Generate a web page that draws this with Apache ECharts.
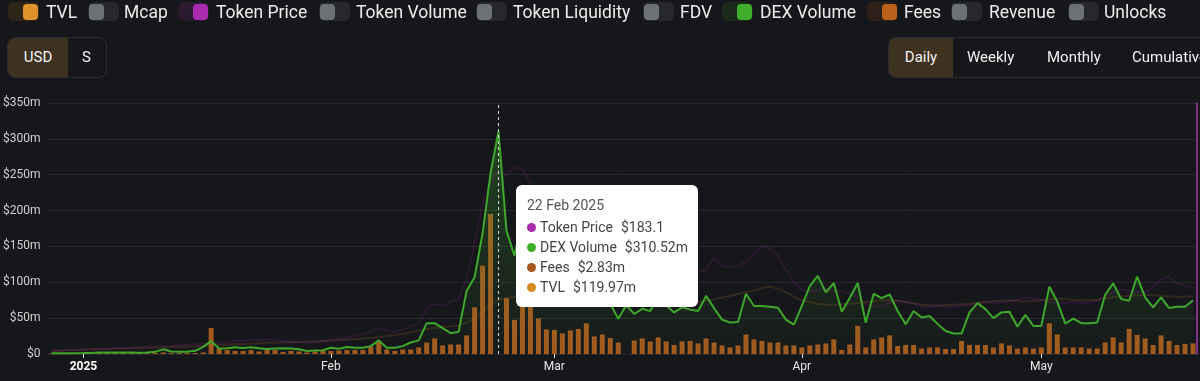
<!DOCTYPE html>
<html>
<head>
<meta charset="utf-8">
<script src="https://cdn.jsdelivr.net/npm/echarts@6/dist/echarts.min.js"></script>
<style>
  body { margin: 0; width: 1200px; height: 381px; overflow: hidden; position: relative;
         background: #16171b; font-family: Roboto, "Noto Sans", sans-serif; color: #e8e8e8; }
  #chart { position: absolute; left: 0; top: 0; width: 1200px; height: 381px; }
  .sw { position: absolute; top: 2px; width: 31px; height: 19px; border-radius: 6px; background: #27282c; }
  .knob { position: absolute; top: 2px; width: 15px; height: 16px; border-radius: 4px; }
  .lg { position: absolute; top: 1px; font-size: 17.5px; line-height: 23px; white-space: nowrap; color: #ececec; }
  .box { position: absolute; top: 37px; height: 39px; border: 1px solid #2a2b30; border-radius: 8px; overflow: hidden; }
  .seg { position: absolute; top: 0; height: 39px; line-height: 39px; font-size: 15px; color: #f2f2f2; white-space: nowrap; }
  .on { background: #3d3120; text-align: center; }
</style>
</head>
<body>
<div id="chart"></div>
<div id="legend"></div>

<div class="box" style="left:7px; width:98px;">
  <div class="seg on" style="left:0; width:60px;">USD</div>
  <div class="seg" style="left:74px;">S</div>
</div>
<div class="box" style="left:888px; width:340px;">
  <div class="seg on" style="left:0; width:64px;">Daily</div>
  <div class="seg" style="left:78px;">Weekly</div>
  <div class="seg" style="left:158px;">Monthly</div>
  <div class="seg" style="left:243px;">Cumulative</div>
</div>

<script>
// categories: daily, 28 Dec 2024 .. 20 May 2025
var startDay = Date.UTC(2024, 11, 28);
var dayCount = 144;
var monthNames = ['Jan', 'Feb', 'Mar', 'Apr', 'May', 'Jun', 'Jul', 'Aug', 'Sep', 'Oct', 'Nov', 'Dec'];

// DEX Volume ($m)
var dexVolume = [
  1.0, 1.0, 1.2, 1.2, 1.3, 1.5, 2.0, 2.0, 2.2, 2.0,
  2.0, 1.8, 2.0, 3.0, 6.5, 3.5, 3.2, 3.3, 4.5, 10,
  18, 7.5, 8.0, 9.5, 8.5, 9.5, 8.0, 7.0, 7.5, 8.0,
  7.5, 6.6, 4.2, 4.8, 5.2, 8.8, 7.4, 9.8, 8.8, 8.8,
  11, 19, 8.8, 8.8, 11, 16, 19, 43, 43, 36,
  29, 31, 88, 107, 168, 252, 310.52, 172, 137, 190,
  165, 120, 110, 95, 100, 85, 90, 80, 75, 72,
  70, 49, 68, 56, 63, 60, 80, 68, 58, 65,
  62, 60, 81, 64, 48, 44, 44.5, 84, 67, 67,
  66, 64.5, 48, 41, 67, 95, 109, 86, 99, 59,
  78, 99, 44, 84, 78, 83, 60, 41.6, 60, 51,
  53, 42, 32, 28.5, 28.5, 58, 71, 62.6, 50, 58,
  59, 38, 54.6, 39, 39, 94, 73, 42.4, 49.4, 43,
  43, 44, 82.6, 98.5, 76.6, 74.2, 108, 79, 65, 79,
  64, 66, 66, 75
];

// Fees ($m)
var fees = [
  0.01, 0.01, 0.01, 0.01, 0.01, 0.01, 0.02, 0.02, 0.02, 0.02,
  0.02, 0.02, 0.02, 0.02, 0.03, 0.02, 0.02, 0.02, 0.02, 0.03,
  0.52, 0.11, 0.08, 0.06, 0.06, 0.08, 0.05, 0.12, 0.08, 0.04,
  0.06, 0.05, 0.03, 0.05, 0.06, 0.06, 0.07, 0.08, 0.08, 0.08,
  0.15, 0.26, 0.09, 0.06, 0.09, 0.09, 0.13, 0.23, 0.31, 0.17,
  0.19, 0.19, 0.37, 0.93, 1.76, 2.79, 2.83, 1.11, 0.68, 0.96,
  0.94, 0.71, 0.49, 0.48, 0.41, 0.47, 0.5, 0.61, 0.35, 0.39,
  0.32, 0.23, 0, 0.27, 0.31, 0.25, 0.33, 0.25, 0.18, 0.25,
  0.26, 0.21, 0.31, 0.23, 0.17, 0.13, 0.17, 0.39, 0.29, 0.26,
  0.23, 0.23, 0.17, 0.17, 0.13, 0.17, 0.19, 0.21, 0.29, 0.08,
  0.19, 0.56, 0.13, 0.29, 0.33, 0.37, 0.16, 0.18, 0.18, 0.11,
  0.13, 0.13, 0.1, 0.1, 0.26, 0.18, 0.18, 0.18, 0.13, 0.21,
  0.17, 0.11, 0.13, 0.11, 0.13, 0.61, 0.39, 0.13, 0.13, 0.13,
  0.11, 0.11, 0.23, 0.33, 0.23, 0.5, 0.38, 0.31, 0.18, 0.37,
  0.26, 0.18, 0.2, 0.21
];

// Token Price ($)
var tokenPrice = [
  3, 3, 4, 4, 4, 5, 5, 5, 6, 6,
  6, 7, 7, 8, 8, 8, 9, 9, 10, 10,
  11, 11, 12, 13, 13, 14, 14, 15, 14, 13,
  12, 12, 11, 12, 13, 14, 15, 16, 18, 20,
  22, 26, 24, 22, 24, 28, 30, 45, 50, 48,
  52, 55, 75, 110, 150, 172, 183.1, 178, 186, 184,
  170, 160, 150, 140, 130, 120, 115, 110, 105, 100,
  98, 95, 92, 90, 92, 95, 93, 90, 88, 86,
  84, 82, 84, 96, 88, 86, 88, 92, 100, 107,
  105, 98, 84, 72, 64, 62, 64, 64, 63, 62,
  60, 56, 50, 47, 48, 51, 53, 52, 50, 47,
  47, 48, 47, 47, 48, 49, 50, 52, 51, 51,
  52, 54, 56, 55, 54, 52, 51, 51, 52, 51,
  51, 53, 58, 62, 64, 63, 62, 61, 66, 74,
  77, 70, 68, 67
];

// TVL ($m)
var tvl = [
  8, 8, 9, 9, 10, 10, 11, 11, 12, 12,
  13, 13, 14, 14, 15, 15, 16, 16, 17, 18,
  19, 20, 21, 22, 22, 23, 24, 25, 25, 26,
  26, 27, 28, 28, 29, 30, 31, 32, 33, 34,
  36, 38, 40, 42, 45, 48, 52, 56, 58, 60,
  62, 64, 70, 80, 95, 110, 119.97, 125, 128, 130,
  128, 125, 122, 120, 118, 116, 115, 114, 113, 112,
  111, 110, 110, 109, 110, 112, 113, 112, 111, 112,
  114, 116, 118, 122, 126, 130, 134, 138, 142, 147,
  150, 146, 138, 128, 120, 116, 112, 110, 110, 111,
  112, 114, 116, 118, 120, 120, 119, 116, 113, 110,
  109, 108, 109, 110, 111, 112, 114, 116, 118, 119,
  120, 118, 117, 118, 120, 122, 124, 123, 121, 120,
  120, 121, 124, 127, 129, 130, 131, 132, 131, 130,
  129, 128, 128, 129
];

var yTicks = [0, 50, 100, 150, 200, 250, 300, 350];
var hoverIndex = 56; // 22 Feb 2025

var legendItems = [
  { name: 'TVL', on: true, color: '#e0922a', track: '#2e2619', sw: 8, tx: 46 },
  { name: 'Mcap', on: false, sw: 88, tx: 124 },
  { name: 'Token Price', on: true, color: '#a82bb0', track: '#2a1a2d', sw: 178, tx: 216 },
  { name: 'Token Volume', on: false, sw: 319, tx: 356 },
  { name: 'Token Liquidity', on: false, sw: 476, tx: 513 },
  { name: 'FDV', on: false, sw: 643, tx: 680 },
  { name: 'DEX Volume', on: true, color: '#3fae2a', track: '#1c2a1b', sw: 722, tx: 760 },
  { name: 'Fees', on: true, color: '#b8621e', track: '#2d2119', sw: 867, tx: 904 },
  { name: 'Revenue', on: false, sw: 951, tx: 989 },
  { name: 'Unlocks', on: false, sw: 1068, tx: 1104 }
];

var html = '';
legendItems.forEach(function (it) {
  var knob = it.on
    ? '<div class="knob" style="right:1px;background:' + it.color + '"></div>'
    : '<div class="knob" style="left:1px;background:#6d7074"></div>';
  html += '<div class="sw" style="left:' + it.sw + 'px;background:' + (it.on ? it.track : '#27282c') + '">' + knob + '</div>';
  html += '<div class="lg" style="left:' + it.tx + 'px">' + it.name + '</div>';
});
document.getElementById('legend').innerHTML = html;

var dates = [];
for (var i = 0; i < dayCount; i++) {
  dates.push(new Date(startDay + i * 86400000).toISOString().slice(0, 10));
}

function isMonthStart(idx, value) {
  return value.slice(8) === '01';
}
function money(v) {
  return '$' + (+v.toFixed(2)) + 'm';
}

var feeData = fees.map(function (v, i) {
  return i === hoverIndex ? { value: v, itemStyle: { opacity: 0 } } : v;
});

var myChart = echarts.init(document.getElementById('chart'));

option = {
  animation: false,
  backgroundColor: 'transparent',
  grid: { left: 46, right: 3, top: 103, bottom: 27 },
  tooltip: {
    trigger: 'axis',
    alwaysShowContent: true,
    position: [516, 185],
    backgroundColor: '#ffffff',
    borderWidth: 0,
    padding: [10, 10, 10, 11],
    extraCssText: 'box-shadow:none;border-radius:6px;',
    axisPointer: {
      type: 'line',
      lineStyle: { color: '#d8d8d8', width: 1, type: [3, 3] }
    },
    formatter: function (params) {
      var i = params[0].dataIndex;
      var d = dates[i];
      var rows = [
        ['#a82bb0', 'Token Price', '$' + tokenPrice[i]],
        ['#3fae2a', 'DEX Volume', money(dexVolume[i])],
        ['#a9561d', 'Fees', money(fees[i])],
        ['#d68a22', 'TVL', money(tvl[i])]
      ];
      var s = '<div style="font-family:Roboto;font-size:14px;line-height:20px;color:#555;margin-bottom:2px">' +
        (+d.slice(8)) + ' ' + monthNames[+d.slice(5, 7) - 1] + ' ' + d.slice(0, 4) + '</div>';
      rows.forEach(function (r) {
        s += '<div style="font-family:Roboto;font-size:14px;line-height:20px;color:#444">' +
          '<span style="display:inline-block;width:9px;height:9px;border-radius:5px;margin-right:4px;background:' + r[0] + '"></span>' +
          r[1] + '<span style="margin-left:8px">' + r[2] + '</span></div>';
      });
      return s;
    }
  },
  xAxis: {
    type: 'category',
    data: dates,
    boundaryGap: true,
    axisLine: { show: false },
    axisTick: {
      show: true, alignWithLabel: true, interval: isMonthStart, length: 4,
      lineStyle: { color: '#e0e0e0' }
    },
    axisLabel: {
      interval: isMonthStart,
      margin: 7,
      color: '#e8e8e8',
      fontSize: 12,
      fontFamily: 'Roboto',
      formatter: function (v) {
        var m = +v.slice(5, 7);
        return m === 1 ? '{y|' + v.slice(0, 4) + '}' : monthNames[m - 1];
      },
      rich: { y: { fontWeight: 'bold', color: '#ffffff', fontSize: 12, fontFamily: 'Roboto' } }
    }
  },
  yAxis: [
    {
      type: 'value',
      min: yTicks[0],
      max: yTicks[yTicks.length - 1],
      interval: 50,
      axisLabel: {
        color: '#d0d0d0', fontSize: 12, fontFamily: 'Roboto', margin: 7,
        formatter: function (v) { return v === 0 ? '$0' : '$' + v + 'm'; }
      },
      splitLine: { lineStyle: { color: '#27282d' } }
    },
    { type: 'value', show: false, min: 0, max: 5 },
    { type: 'value', show: false, min: 0, max: 560 },
    {
      type: 'value', min: 0, max: 250, position: 'right',
      axisLine: { show: true, lineStyle: { color: '#a33aa8', width: 1.5 } },
      axisTick: { show: false }, axisLabel: { show: false }, splitLine: { show: false }
    }
  ],
  series: [
    {
      name: 'Fees',
      type: 'bar',
      yAxisIndex: 1,
      barWidth: 5,
      itemStyle: { color: '#a5591f' },
      emphasis: { disabled: true },
      data: feeData
    },
    {
      name: 'TVL',
      type: 'line',
      yAxisIndex: 2,
      symbol: 'none',
      lineStyle: { color: 'rgba(222,140,45,0.15)', width: 2 },
      emphasis: { disabled: true },
      data: tvl
    },
    {
      name: 'Token Price',
      type: 'line',
      yAxisIndex: 3,
      symbol: 'none',
      lineStyle: { color: 'rgba(168,43,176,0.15)', width: 2 },
      emphasis: { disabled: true },
      data: tokenPrice
    },
    {
      name: 'DEX Volume',
      type: 'line',
      yAxisIndex: 0,
      symbol: 'none',
      lineStyle: { color: '#3fa82c', width: 2 },
      areaStyle: {
        color: new echarts.graphic.LinearGradient(0, 0, 0, 1, [
          { offset: 0, color: 'rgba(63,168,44,0.45)' },
          { offset: 1, color: 'rgba(63,168,44,0.03)' }
        ])
      },
      emphasis: { disabled: true },
      data: dexVolume
    }
  ]
};

myChart.setOption(option);
myChart.dispatchAction({ type: 'showTip', seriesIndex: 3, dataIndex: hoverIndex });
</script>
</body>
</html>
